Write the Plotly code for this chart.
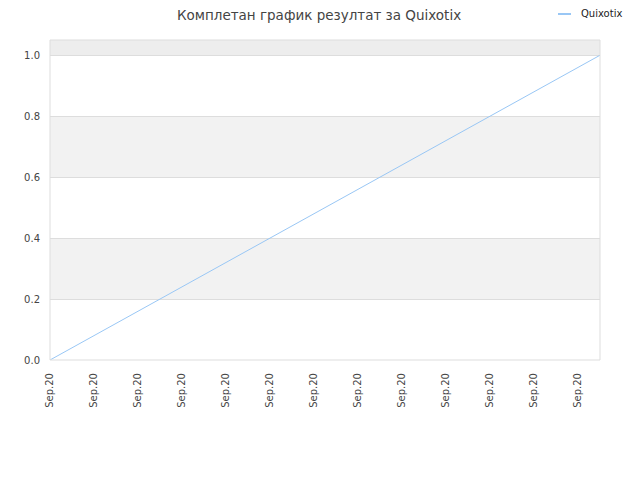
import plotly.graph_objects as go

title = "Комплетан график резултат за Quixotix"
series_name = "Quixotix"
x_values = [0, 12.5]
y_values = [0.0, 1.0]
tick_positions = list(range(13))
tick_labels = ["Sep.20"] * 13
y_ticks = [0, 0.2, 0.4, 0.6, 0.8, 1.0]
y_tick_labels = ["0.0", "0.2", "0.4", "0.6", "0.8", "1.0"]
line_color = "#99c7f5"

fig = go.Figure()
fig.add_trace(go.Scatter(x=x_values, y=y_values, mode="lines", name=series_name,
                         showlegend=False, line=dict(color=line_color, width=1)))

shapes = []
for lo, hi, col in [(0.2, 0.4, "#f2f2f2"), (0.6, 0.8, "#f2f2f2"), (1.0, 1.05, "#ededed")]:
    shapes.append(dict(type="rect", xref="paper", yref="y", x0=0, x1=1, y0=lo, y1=hi,
                       fillcolor=col, line=dict(width=0), layer="below"))
shapes.append(dict(type="rect", xref="paper", yref="paper", x0=0, x1=1, y0=0, y1=1,
                   line=dict(color="#dddddd", width=1), fillcolor="rgba(0,0,0,0)"))
# legend swatch
shapes.append(dict(type="line", xref="paper", yref="paper", x0=0.9236, x1=0.9473,
                   y0=1.08125, y1=1.08125, line=dict(color=line_color, width=2)))

fig.update_layout(
    width=640, height=480,
    paper_bgcolor="white", plot_bgcolor="white",
    font=dict(family="DejaVu Sans", size=10, color="#333333"),
    title=dict(text=title, xref="container", x=0.486, xanchor="center",
               yref="container", y=0.994, yanchor="top", pad=dict(t=0, b=0),
               font=dict(size=13.5, color="#444444")),
    margin=dict(l=42, r=48, t=32, b=128, autoexpand=False),
    showlegend=False,
    shapes=shapes,
    annotations=[dict(text=series_name, xref="paper", yref="paper", x=0.962, y=1.08125,
                      xanchor="left", yanchor="middle", showarrow=False,
                      font=dict(size=10, color="#222222"))],
    xaxis=dict(range=[0, 12.5], tickmode="array", tickvals=tick_positions, ticktext=tick_labels,
               tickangle=-90, showgrid=False, zeroline=False, showline=False,
               tickfont=dict(size=10, color="#444444"), ticks="", ticklabelstandoff=10),
    yaxis=dict(range=[0, 1.05], tickmode="array", tickvals=y_ticks, ticktext=y_tick_labels,
               showgrid=True, gridcolor="#dddddd", gridwidth=1, zeroline=False,
               showline=False, tickfont=dict(size=10, color="#444444"), ticks="",
               ticklabelstandoff=9),
)

fig.write_html("out.html")
